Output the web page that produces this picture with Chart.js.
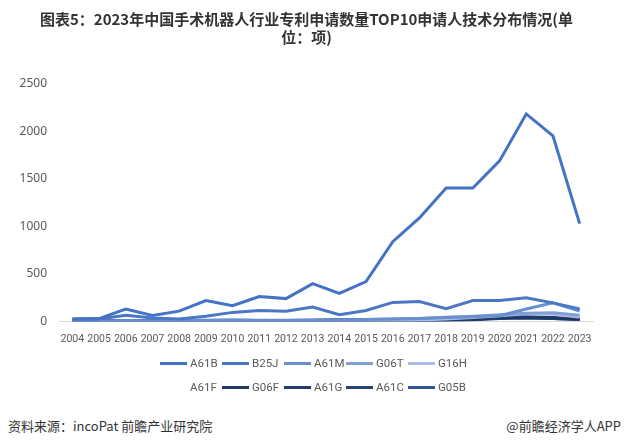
<!DOCTYPE html>
<html>
<head>
<meta charset="utf-8">
<script src="https://cdn.jsdelivr.net/npm/chart.js@4.4.1/dist/chart.umd.min.js"></script>
<style>
  body { margin: 0; background: #fff; }
  #wrap { position: relative; width: 629px; height: 447px; }
  #chart-box { position: absolute; left: 0; top: 0; width: 629px; height: 365px; }
  #legend { position: absolute; left: 160px; top: 351px; display: grid;
    grid-template-columns: repeat(5, 62px); grid-auto-rows: 24px; }
  #legend .item { display: flex; align-items: center; font: 11.5px Roboto, sans-serif; color: #595959; }
  #legend .swatch { width: 27px; height: 3px; margin-right: 3px; }
  .foot { position: absolute; top: 416px; font: 13px "Noto Sans CJK SC", sans-serif; color: #333; }
</style>
</head>
<body>
<div id="wrap">
  <div id="chart-box"><canvas id="patentChart"></canvas></div>
  <div id="legend"></div>
  <div class="foot" style="left:8px;">资料来源：incoPat 前瞻产业研究院</div>
  <div class="foot" style="right:8px;">@前瞻经济学人APP</div>
</div>
<script>
// years on x axis
const years = ["2004","2005","2006","2007","2008","2009","2010","2011","2012","2013",
  "2014","2015","2016","2017","2018","2019","2020","2021","2022","2023"];

// patent counts per IPC class
const a61b = [28, 30, 130, 63, 108, 220, 165, 262, 240, 398, 295, 420, 840, 1090, 1405, 1405, 1690, 2185, 1955, 1030];
const b25j = [20, 25, 65, 35, 25, 55, 95, 115, 108, 152, 70, 115, 200, 210, 135, 220, 220, 250, 195, 130];
const a61m = [5, 5, 10, 8, 10, 12, 15, 12, 12, 15, 15, 20, 25, 30, 40, 50, 60, 130, 195, 110];
const g06t = [0, 0, 2, 2, 3, 5, 5, 8, 8, 10, 12, 20, 25, 30, 45, 55, 70, 85, 90, 65];
const g16h = [0, 0, 0, 0, 0, 0, 0, 0, 0, 0, 2, 5, 10, 15, 25, 40, 60, 80, 75, 45];
const a61f = [15, 15, 20, 18, 15, 20, 25, 25, 22, 30, 25, 30, 35, 40, 45, 50, 55, 60, 55, 40];
const g06f = [2, 2, 3, 3, 3, 4, 5, 5, 5, 6, 8, 10, 12, 15, 20, 25, 45, 50, 40, 25];
const a61g = [3, 3, 5, 5, 5, 8, 8, 6, 6, 8, 10, 12, 15, 15, 18, 20, 40, 45, 35, 25];
const a61c = [5, 5, 8, 6, 6, 10, 12, 10, 10, 12, 18, 20, 18, 15, 15, 18, 30, 35, 30, 20];
const g05b = [2, 2, 3, 3, 4, 5, 6, 8, 8, 10, 15, 20, 18, 15, 15, 20, 35, 40, 30, 20];

const seriesNames = ["A61B", "B25J", "A61M", "G06T", "G16H", "A61F", "G06F", "A61G", "A61C", "G05B"];
const seriesData = [a61b, b25j, a61m, g06t, g16h, a61f, g06f, a61g, a61c, g05b];
const seriesColors = ["#4472c4", "#4a78c4", "#6a8fd0", "#7f9fd6", "#a9bfe6",
  "rgba(255,255,255,0)", "#1f3864", "#213d6e", "#264478", "#2e5597"];

const datasets = seriesNames.map((name, i) => ({
  label: name,
  data: seriesData[i],
  borderColor: seriesColors[i],
  backgroundColor: seriesColors[i],
  borderWidth: 3,
  pointRadius: 0,
  tension: 0
}));

const ctx = document.getElementById("patentChart").getContext("2d");
const chart = new Chart(ctx, {
  type: "line",
  data: { labels: years, datasets },
  options: {
    responsive: true,
    maintainAspectRatio: false,
    animation: false,
    layout: { padding: { left: 20, right: 36, top: 0, bottom: 7 } },
    plugins: {
      title: {
        display: true,
        text: ["图表5：2023年中国手术机器人行业专利申请数量TOP10申请人技术分布情况(单", "位：项)"],
        color: "#333",
        font: { family: "'Noto Sans CJK SC', sans-serif", size: 15, weight: "bold" },
        padding: { top: 10, bottom: 38 }
      },
      legend: { display: false },
      tooltip: { enabled: false }
    },
    scales: {
      x: {
        offset: true,
        grid: { display: false, drawTicks: false },
        border: { color: "#d9d9d9" },
        ticks: {
          autoSkip: false, maxRotation: 0, padding: 12,
          color: "#595959",
          font: { family: "Roboto, sans-serif", size: 10.5 }
        }
      },
      y: {
        min: 0, max: 2500,
        grid: { display: false, drawTicks: false },
        border: { display: false },
        afterFit: (scale) => { scale.width = 39; },
        ticks: {
          stepSize: 500, padding: 12,
          color: "#595959",
          font: { family: "'Noto Sans', sans-serif", size: 12 },
          callback: (v) => String(v)
        }
      }
    }
  }
});

// legend laid out in a 5-column grid like the original
const legendBox = document.getElementById("legend");
chart.options.plugins.legend.labels.generateLabels(chart).forEach((item) => {
  const div = document.createElement("div");
  div.className = "item";
  div.innerHTML = `<span class="swatch" style="background:${item.strokeStyle}"></span>${item.text}`;
  legendBox.appendChild(div);
});
</script>
</body>
</html>
